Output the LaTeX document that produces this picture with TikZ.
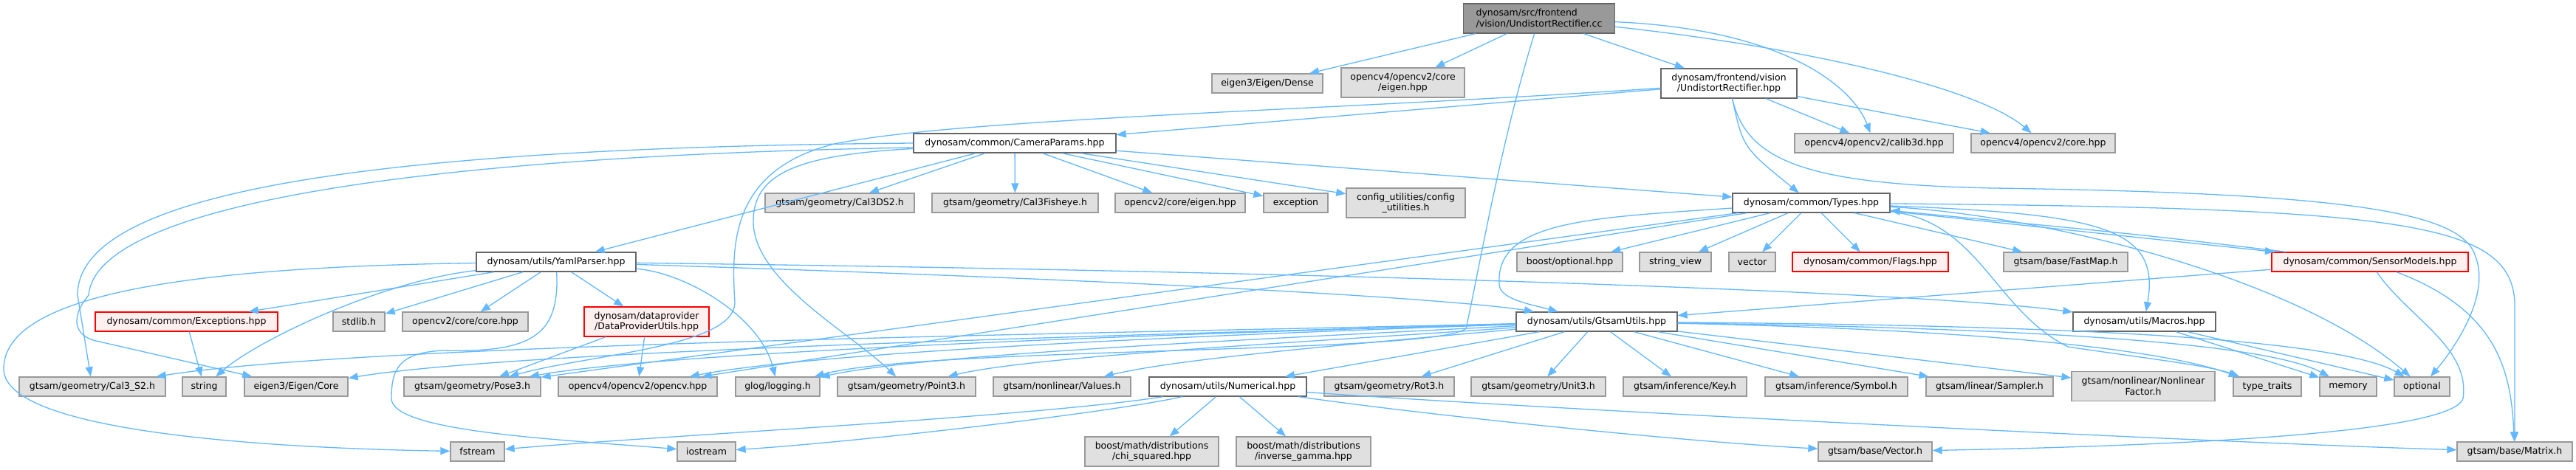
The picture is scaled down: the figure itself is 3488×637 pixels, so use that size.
\documentclass[tikz,border=0pt]{standalone}
\usepackage{fontspec}
\setmainfont{DejaVu Sans}
\usetikzlibrary{arrows.meta}
\definecolor{edgeblue}{HTML}{63B8FF}
\definecolor{sysfill}{HTML}{E0E0E0}
\definecolor{sysline}{HTML}{999999}
\definecolor{docline}{HTML}{666666}
\definecolor{errfill}{HTML}{FFF0F0}
\definecolor{rootfill}{HTML}{999999}

\begin{document}
\begin{tikzpicture}[x=1pt,y=-1pt,
    every node/.style={font=\fontsize{12.5}{14.5}\selectfont, inner sep=0pt, line width=1.3pt, minimum height=26pt},
    sysbox/.style={draw=sysline, fill=sysfill},
    docbox/.style={draw=docline, fill=white},
    errbox/.style={draw=red, fill=errfill},
    rootbox/.style={draw=docline, fill=rootfill},
    twoline/.style={align=center, minimum height=40pt},
    dep/.style={draw=edgeblue, line width=1.3pt, -{Triangle[length=13pt,width=10pt]}}]
\path[use as bounding box, fill=white] (0,0) rectangle (3488,637);

\node[rootbox, twoline, align=left, minimum width=205pt] (root) at (2084,25) {dynosam/src/frontend\\/vision/UndistortRectifier.cc};

\node[sysbox, minimum width=150pt] (dense) at (1716,113) {eigen3/Eigen/Dense};
\node[sysbox, twoline, minimum width=167pt] (cveigen) at (1899.5,112) {opencv4/opencv2/core\\/eigen.hpp};
\node[docbox, twoline, minimum width=184pt] (urhpp) at (2341,113) {dynosam/frontend/vision\\/UndistortRectifier.hpp};

\node[docbox, minimum width=274pt] (camparams) at (1374,194) {dynosam/common/CameraParams.hpp};
\node[sysbox, minimum width=215pt] (calib) at (2537.5,194) {opencv4/opencv2/calib3d.hpp};
\node[sysbox, minimum width=195pt] (corehpp) at (2766.5,194) {opencv4/opencv2/core.hpp};

\node[sysbox, minimum width=202pt] (cal3ds2) at (1137,275) {gtsam/geometry/Cal3DS2.h};
\node[sysbox, minimum width=225pt] (fisheye) at (1374.5,275) {gtsam/geometry/Cal3Fisheye.h};
\node[sysbox, minimum width=176pt] (cveigentwo) at (1598,275) {opencv2/core/eigen.hpp};
\node[sysbox, minimum width=87pt] (exception) at (1754.5,275) {exception};
\node[sysbox, twoline, minimum width=161pt] (config) at (1903.5,275) {config\_utilities/config\\\_utilities.h};
\node[docbox, minimum width=213pt] (types) at (2452.5,275) {dynosam/common/Types.hpp};

\node[docbox, minimum width=216pt] (yaml) at (753,355) {dynosam/utils/YamlParser.hpp};
\node[sysbox, minimum width=143pt] (boostopt) at (2125.5,355) {boost/optional.hpp};
\node[sysbox, minimum width=97pt] (strview) at (2268.5,355) {string\_view};
\node[sysbox, minimum width=63pt] (vector) at (2372.5,355) {vector};
\node[errbox, minimum width=211pt] (flags) at (2532.5,355) {dynosam/common/Flags.hpp};
\node[sysbox, minimum width=168pt] (fastmap) at (2797,355) {gtsam/base/FastMap.h};
\node[errbox, minimum width=266pt] (sensor) at (3209,355) {dynosam/common/SensorModels.hpp};

\node[errbox, minimum width=247pt] (except) at (252.5,436) {dynosam/common/Exceptions.hpp};
\node[sysbox, minimum width=70pt] (stdlib) at (486,436) {stdlib.h};
\node[sysbox, minimum width=170pt] (corecore) at (630,436) {opencv2/core/core.hpp};
\node[errbox, twoline, minimum width=169pt] (dpu) at (875.5,436) {dynosam/dataprovider\\/DataProviderUtils.hpp};
\node[docbox, minimum width=218pt] (gtsam) at (2162,436) {dynosam/utils/GtsamUtils.hpp};
\node[docbox, minimum width=193pt] (macros) at (2903.5,436) {dynosam/utils/Macros.hpp};

\node[sysbox, minimum width=198pt] (cal3s2) at (125,524) {gtsam/geometry/Cal3\_S2.h};
\node[sysbox, minimum width=59pt] (string) at (276.5,524) {string};
\node[sysbox, minimum width=140pt] (eigencore) at (401,524) {eigen3/Eigen/Core};
\node[sysbox, minimum width=185pt] (pose3) at (639.5,524) {gtsam/geometry/Pose3.h};
\node[sysbox, minimum width=215pt] (opencv) at (863.5,524) {opencv4/opencv2/opencv.hpp};
\node[sysbox, minimum width=114pt] (glog) at (1053,524) {glog/logging.h};
\node[sysbox, minimum width=187pt] (point3) at (1227.5,524) {gtsam/geometry/Point3.h};
\node[sysbox, minimum width=186pt] (values) at (1438,524) {gtsam/nonlinear/Values.h};
\node[docbox, minimum width=213pt] (numerical) at (1662.5,524) {dynosam/utils/Numerical.hpp};
\node[sysbox, minimum width=176pt] (rot3) at (1881,524) {gtsam/geometry/Rot3.h};
\node[sysbox, minimum width=182pt] (unit3) at (2083,524) {gtsam/geometry/Unit3.h};
\node[sysbox, minimum width=167pt] (key) at (2281.5,524) {gtsam/inference/Key.h};
\node[sysbox, minimum width=193pt] (symbol) at (2486.5,524) {gtsam/inference/Symbol.h};
\node[sysbox, minimum width=172pt] (sampler) at (2694,524) {gtsam/linear/Sampler.h};
\node[sysbox, twoline, minimum width=194pt] (nlfactor) at (2902,523.5) {gtsam/nonlinear/Nonlinear\\Factor.h};
\node[sysbox, minimum width=92pt] (typetraits) at (3070,524) {type\_traits};
\node[sysbox, minimum width=77pt] (memory) at (3179.5,524) {memory};
\node[sysbox, minimum width=75pt] (optional) at (3279.5,524) {optional};

\node[sysbox, minimum width=73pt] (fstream) at (646.5,612) {fstream};
\node[sysbox, minimum width=79pt] (iostream) at (956.5,612) {iostream};
\node[sysbox, twoline, minimum width=181pt] (chisq) at (1559.5,612) {boost/math/distributions\\/chi\_squared.hpp};
\node[sysbox, twoline, minimum width=182pt] (invgamma) at (1765,612) {boost/math/distributions\\/inverse\_gamma.hpp};
\node[sysbox, minimum width=154pt] (vectorh) at (2539,612) {gtsam/base/Vector.h};
\node[sysbox, minimum width=156pt] (matrix) at (3405,612) {gtsam/base/Matrix.h};

\draw[dep] (root) -- (dense);
\draw[dep] (root) -- (cveigen);
\draw[dep] (root) -- (urhpp);
\draw[dep] (root) .. controls (2420,40) and (2510,120) .. (calib);
\draw[dep] (root) .. controls (2450,65) and (2680,120) .. (corehpp);
\draw[dep] (root) .. controls (2030,200) and (2000,380) .. (1985,445) .. controls (1950,480) and (1250,470) .. (glog);

\draw[dep] (urhpp) -- (camparams);
\draw[dep] (urhpp) .. controls (2360,200) .. (types);
\draw[dep] (urhpp) -- (calib);
\draw[dep] (urhpp) -- (corehpp);
\draw[dep] (urhpp) .. controls (2365,220) and (2450,250) .. (2700,255) .. controls (3200,262) and (3335,290) .. (3352,348) .. controls (3372,400) and (3325,470) .. (optional);
\draw[dep] (urhpp) .. controls (1800,150) and (1300,160) .. (1130,195) .. controls (990,230) and (990,330) .. (995,410) .. controls (995,470) and (800,480) .. (pose3);

\draw[dep] (camparams) -- (yaml);
\draw[dep] (camparams) -- (cal3ds2);
\draw[dep] (camparams) -- (fisheye);
\draw[dep] (camparams) -- (cveigentwo);
\draw[dep] (camparams) -- (exception);
\draw[dep] (camparams) -- (config);
\draw[dep] (camparams) -- (types);
\draw[dep] (camparams.west) .. controls (500,200) and (105,260) .. (105,400) -- (cal3s2);
\draw[dep] ([yshift=-6pt]camparams.west) .. controls (550,212) and (130,280) .. (120,400) .. controls (95,430) and (100,455) .. (130,462) -- (eigencore);
\draw[dep] (camparams) .. controls (1080,210) and (1020,235) .. (1020,300) .. controls (1020,380) and (1150,450) .. (point3);

\draw[dep] (types) -- (boostopt);
\draw[dep] (types) -- (strview);
\draw[dep] (types) -- (vector);
\draw[dep] (types) -- (flags);
\draw[dep] (types) -- (fastmap);
\draw[dep] (types) -- (sensor);
\draw[dep] (sensor) .. controls (2900,318) .. (types);
\draw[dep] (types) .. controls (2850,290) and (2925,310) .. (macros);
\draw[dep] (types) .. controls (2750,290) and (3100,370) .. (optional);
\draw[dep] (types) .. controls (2680,300) and (2700,420) .. (2800,470) .. controls (2900,485) and (2990,495) .. (typetraits);
\draw[dep] (types) .. controls (3250,282) and (3400,300) .. (3405,410) -- (matrix);
\draw[dep] (types) .. controls (2150,295) and (2025,300) .. (2030,385) .. controls (2030,405) and (2070,412) .. (gtsam);
\draw[dep] (types) -- (pose3);
\draw[dep] (types) -- (opencv);

\draw[dep] (sensor) -- (gtsam);
\draw[dep] (sensor) .. controls (3380,420) and (3400,500) .. (matrix);
\draw[dep] (sensor) .. controls (3260,430) and (3345,470) .. (3335,540) .. controls (3320,590) and (2900,605) .. (vectorh);

\draw[dep] (yaml) -- (except);
\draw[dep] (yaml) .. controls (520,380) and (350,460) .. (string);
\draw[dep] (yaml) -- (stdlib);
\draw[dep] (yaml) -- (corecore);
\draw[dep] (yaml) -- (dpu);
\draw[dep] (yaml) .. controls (250,362) and (5,400) .. (5,500) .. controls (5,590) and (400,608) .. (fstream);
\draw[dep] (yaml) .. controls (758,455) and (720,478) .. (600,475) .. controls (540,478) and (530,500) .. (530,540) .. controls (530,585) and (750,595) .. (iostream);
\draw[dep] (yaml) .. controls (930,370) and (1030,430) .. (glog);
\draw[dep] (yaml) .. controls (1800,368) and (2600,395) .. (macros);
\draw[dep] (yaml) .. controls (1700,385) and (2000,410) .. (gtsam);

\draw[dep] (except) -- (string);
\draw[dep] (dpu) -- (pose3);
\draw[dep] (dpu) -- (opencv);

\draw[dep] (gtsam) .. controls (1500,452) and (500,465) .. (cal3s2);
\draw[dep] (gtsam) .. controls (1500,455) and (700,475) .. (eigencore);
\draw[dep] (gtsam) .. controls (1500,455) and (900,478) .. (pose3);
\draw[dep] (gtsam) .. controls (1600,455) and (1100,478) .. (opencv);
\draw[dep] (gtsam) .. controls (1700,460) and (1250,480) .. (glog);
\draw[dep] (gtsam) .. controls (1800,462) and (1400,482) .. (point3);
\draw[dep] (gtsam) .. controls (1850,465) and (1600,485) .. (values);
\draw[dep] (gtsam) -- (numerical);
\draw[dep] (gtsam) -- (rot3);
\draw[dep] (gtsam) -- (unit3);
\draw[dep] (gtsam) -- (key);
\draw[dep] (gtsam) -- (symbol);
\draw[dep] (gtsam) -- (sampler);
\draw[dep] (gtsam) -- (nlfactor);
\draw[dep] (gtsam) .. controls (2600,445) and (2900,465) .. (typetraits);
\draw[dep] (gtsam) .. controls (2600,443) and (3050,455) .. (memory);
\draw[dep] (gtsam) .. controls (2650,440) and (3150,450) .. (optional);

\draw[dep] (macros) -- (memory);
\draw[dep] (macros) -- (optional);

\draw[dep] (numerical) .. controls (1400,565) and (900,590) .. (fstream);
\draw[dep] (numerical) .. controls (1500,560) and (1150,600) .. (iostream);
\draw[dep] (numerical) -- (chisq);
\draw[dep] (numerical) -- (invgamma);
\draw[dep] (numerical) .. controls (1950,565) and (2300,600) .. (vectorh);
\draw[dep] (numerical) .. controls (2100,555) and (3000,600) .. (matrix);
\end{tikzpicture}
\end{document}
